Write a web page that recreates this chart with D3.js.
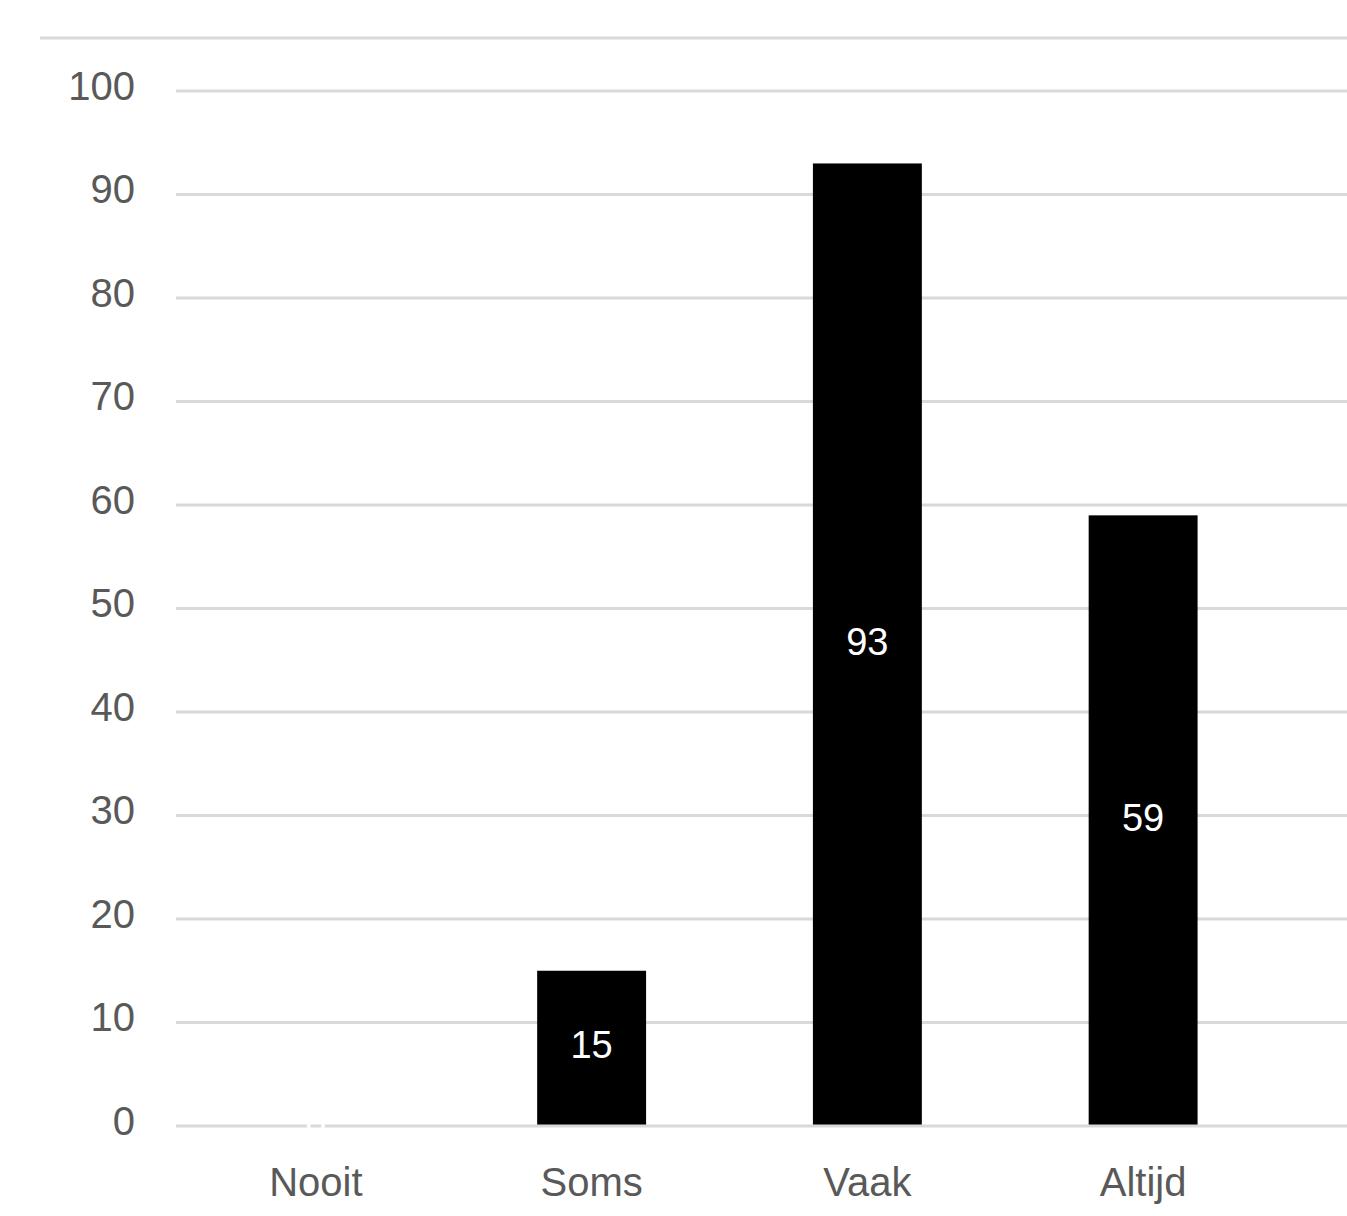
<!DOCTYPE html>
<html>
<head>
<meta charset="utf-8">
<script src="https://cdn.jsdelivr.net/npm/d3@7"></script>
<style>
  html, body { margin: 0; padding: 0; background: #fff; }
  svg { display: block; }
</style>
</head>
<body>
<svg id="chart" width="1347" height="1216"></svg>
<script>
const categories = ["Nooit", "Soms", "Vaak", "Altijd"];
const values = [0, 15, 93, 59];
const yTicks = [0, 10, 20, 30, 40, 50, 60, 70, 80, 90, 100];

const svg = d3.select("#chart");
const font = "'Liberation Sans', Arial, sans-serif";

// top border line
svg.append("line")
  .attr("x1", 40).attr("x2", 1347)
  .attr("y1", 38).attr("y2", 38)
  .attr("stroke", "#d9d9d9").attr("stroke-width", 3);

const x = d3.scaleBand().domain(categories).range([178, 1281])
  .paddingInner(0.605).paddingOuter(0.3025);
const y = d3.scaleLinear().domain([0, 100]).range([1126, 91]);

// gridlines
svg.append("g").selectAll("line").data(yTicks.filter(t => t !== 0)).join("line")
  .attr("x1", 176).attr("x2", 1347)
  .attr("y1", d => y(d)).attr("y2", d => y(d))
  .attr("stroke", "#d9d9d9").attr("stroke-width", 3);

// y tick labels
svg.append("g").selectAll("text").data(yTicks).join("text")
  .attr("x", 135).attr("y", d => y(d) - 2)
  .attr("text-anchor", "end").attr("dominant-baseline", "middle")
  .attr("font-family", font).attr("font-size", 40).attr("fill", "#595959")
  .text(d => d);

// bars
svg.append("g").selectAll("rect").data(values).join("rect")
  .attr("x", (d, i) => x(categories[i]))
  .attr("width", x.bandwidth())
  .attr("y", d => y(d))
  .attr("height", d => y(0) - y(d))
  .attr("fill", "#000");

// baseline
svg.append("line")
  .attr("x1", 176).attr("x2", 1347)
  .attr("y1", y(0)).attr("y2", y(0))
  .attr("stroke", "#d9d9d9").attr("stroke-width", 3);

// data labels
svg.append("g").selectAll("text").data(values).join("text")
  .attr("x", (d, i) => x(categories[i]) + x.bandwidth() / 2)
  .attr("y", d => (y(d) + y(0)) / 2)
  .attr("text-anchor", "middle").attr("dominant-baseline", "middle")
  .attr("font-family", font).attr("font-size", 38).attr("fill", "#fff")
  .text(d => d);

// category labels
svg.append("g").selectAll("text").data(categories).join("text")
  .attr("x", d => x(d) + x.bandwidth() / 2)
  .attr("y", 1196)
  .attr("text-anchor", "middle")
  .attr("font-family", font).attr("font-size", 40).attr("fill", "#595959")
  .text(d => d);
</script>
</body>
</html>
